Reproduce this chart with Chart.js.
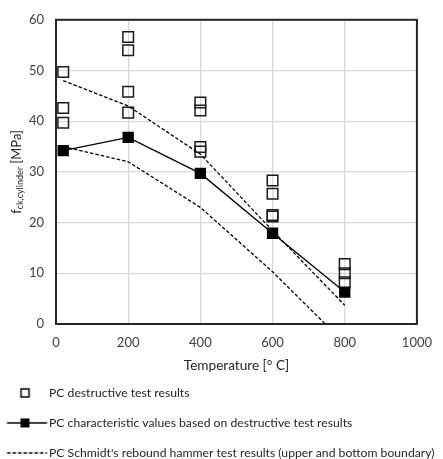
<!DOCTYPE html>
<html>
<head>
<meta charset="utf-8">
<script src="https://cdn.jsdelivr.net/npm/chart.js@4.4.1/dist/chart.umd.min.js"></script>
<style>
  html, body { margin: 0; padding: 0; background: #fff; }
  #wrap { width: 443px; height: 459px; }
</style>
</head>
<body>
<div id="wrap"><canvas id="chart" width="443" height="459"></canvas></div>
<script>
// destructive test results (open squares)
const destTemp = [20, 20, 20, 200, 200, 200, 200, 400, 400, 400, 400, 600, 600, 600, 600, 800, 800, 800];
const destFck = [49.7, 42.6, 39.7, 56.6, 54.0, 45.8, 41.7, 43.7, 42.1, 34.9, 34.0, 28.3, 25.7, 21.5, 21.2, 11.8, 10.0, 8.2];

// characteristic values
const charTemp = [20, 200, 400, 600, 800];
const charFck = [34.2, 36.8, 29.7, 17.9, 6.3];

// Schmidt hammer boundaries
const hammerTemp = [20, 200, 400, 600, 800];
const upperFck = [48.0, 43.0, 33.5, 18.4, 3.7];
const lowerFck = [35.0, 32.0, 23.0, 10.3, -3.8];

const xTicks = [0, 200, 400, 600, 800, 1000];

const legendTexts = [
    "PC destructive test results",
    "PC characteristic values based on destructive test results",
    "PC Schmidt's rebound hammer test results (upper and bottom boundary)"
];

const FONT = "Lato";
const LEG_SIZE = 12.2;
const LEG_PAD = 30 - LEG_SIZE;
const LEG_BOX = 49 - LEG_PAD - LEG_SIZE / 2;

function pts(xs, ys) {
    return xs.map((x, i) => ({ x: x, y: ys[i] }));
}

// legend icons, drawn so that they land at x = 7..47 on the page
function makeIcon(kind) {
    const c = document.createElement("canvas");
    c.width = 50;
    c.height = 14;
    const g = c.getContext("2d");
    const off = LEG_PAD + LEG_BOX / 2 - 25;
    g.strokeStyle = "#000";
    g.fillStyle = "#000";
    if (kind === "open") {
        g.lineWidth = 1.5;
        g.strokeRect(25 - off - 4, 3, 8, 8);
    } else if (kind === "solid") {
        g.lineWidth = 1.3;
        g.beginPath();
        g.moveTo(7 - off, 7);
        g.lineTo(47 - off, 7);
        g.stroke();
        g.fillRect(25 - off - 4.5, 2.5, 9, 9);
    } else {
        g.lineWidth = 1.3;
        g.setLineDash([3.5, 2]);
        g.beginPath();
        g.moveTo(7 - off, 7);
        g.lineTo(47 - off, 7);
        g.stroke();
    }
    return c;
}

const icons = [makeIcon("open"), makeIcon("solid"), makeIcon("dash")];

// frame around plot area + y title with subscript
const framePlugin = {
    id: "frame",
    afterDraw(chart) {
        const { ctx, chartArea: a } = chart;
        ctx.save();
        ctx.strokeStyle = "#262626";
        ctx.lineWidth = 2;
        ctx.strokeRect(a.left, a.top, a.right - a.left, a.bottom - a.top);

        ctx.translate(17, (a.top + a.bottom) / 2);
        ctx.rotate(-Math.PI / 2);
        ctx.fillStyle = "#262626";
        ctx.textBaseline = "middle";
        const big = "13px " + FONT;
        const small = "9px " + FONT;
        ctx.font = big;
        const w1 = ctx.measureText("f").width;
        const w3 = ctx.measureText(" [MPa]").width;
        ctx.font = small;
        const w2 = ctx.measureText("ck,cylinder").width;
        let x = -(w1 + w2 + w3) / 2;
        ctx.font = big;
        ctx.fillText("f", x, 0);
        x += w1;
        ctx.font = small;
        ctx.fillText("ck,cylinder", x, 3);
        x += w2;
        ctx.font = big;
        ctx.fillText(" [MPa]", x, 0);
        ctx.restore();
    }
};

new Chart(document.getElementById("chart"), {
    type: "scatter",
    data: {
        datasets: [
            {
                label: legendTexts[0],
                data: pts(destTemp, destFck),
                showLine: false,
                pointStyle: "rect",
                pointRadius: 7.5,
                pointBorderWidth: 1.5,
                pointBorderColor: "#1a1a1a",
                pointBackgroundColor: "rgba(255,255,255,0)",
                order: 3
            },
            {
                label: legendTexts[1],
                data: pts(charTemp, charFck),
                showLine: true,
                borderColor: "#000",
                borderWidth: 1.3,
                pointStyle: "rect",
                pointRadius: 8,
                pointBorderWidth: 0,
                pointBackgroundColor: "#000",
                order: 1
            },
            {
                label: legendTexts[2],
                data: pts(hammerTemp, upperFck),
                showLine: true,
                borderColor: "#000",
                borderWidth: 1.3,
                borderDash: [3.5, 2],
                pointRadius: 0,
                order: 2
            },
            {
                label: "lower",
                data: pts(hammerTemp, lowerFck),
                showLine: true,
                borderColor: "#000",
                borderWidth: 1.3,
                borderDash: [3.5, 2],
                pointRadius: 0,
                order: 2
            }
        ]
    },
    options: {
        responsive: false,
        animation: false,
        layout: { padding: { top: 15, right: 0, bottom: -10, left: 0 } },
        plugins: {
            tooltip: { enabled: false },
            legend: {
                position: "bottom",
                align: "start",
                labels: {
                    usePointStyle: true,
                    pointStyleWidth: LEG_BOX,
                    padding: LEG_PAD,
                    color: "#262626",
                    font: { family: FONT, size: LEG_SIZE },
                    generateLabels: () => legendTexts.map((t, i) => ({
                        text: t,
                        pointStyle: icons[i],
                        fontColor: "#262626",
                        lineWidth: 0,
                        hidden: false,
                        datasetIndex: i
                    }))
                }
            }
        },
        scales: {
            x: {
                type: "linear",
                min: 0,
                max: 1000,
                afterBuildTicks: s => { s.ticks = xTicks.map(v => ({ value: v })); },
                afterFit: s => { s.height = 45; },
                grid: { color: "#d9d9d9", lineWidth: 1.3, drawTicks: false },
                border: { display: false },
                ticks: {
                    color: "#404040",
                    padding: 11,
                    font: { family: FONT, size: 13 },
                    callback: v => String(v)
                },
                title: {
                    display: true,
                    text: "Temperature [° C]",
                    color: "#262626",
                    font: { family: FONT, size: 13.6 },
                    padding: { top: 0, bottom: -5 }
                }
            },
            y: {
                min: 0,
                max: 60,
                ticks: { stepSize: 10, color: "#404040", padding: 12, font: { family: FONT, size: 13 } },
                afterFit: s => { s.width = 56; },
                grid: { color: "#d9d9d9", lineWidth: 1.3, drawTicks: false },
                border: { display: false }
            },
            // empty right-hand axis, only keeps a 17px margin right of the plot
            yPad: {
                position: "right",
                min: 0,
                max: 60,
                afterFit: s => { s.width = 17; },
                grid: { display: false },
                ticks: { display: false },
                border: { display: false }
            }
        }
    },
    plugins: [framePlugin]
});
</script>
</body>
</html>
